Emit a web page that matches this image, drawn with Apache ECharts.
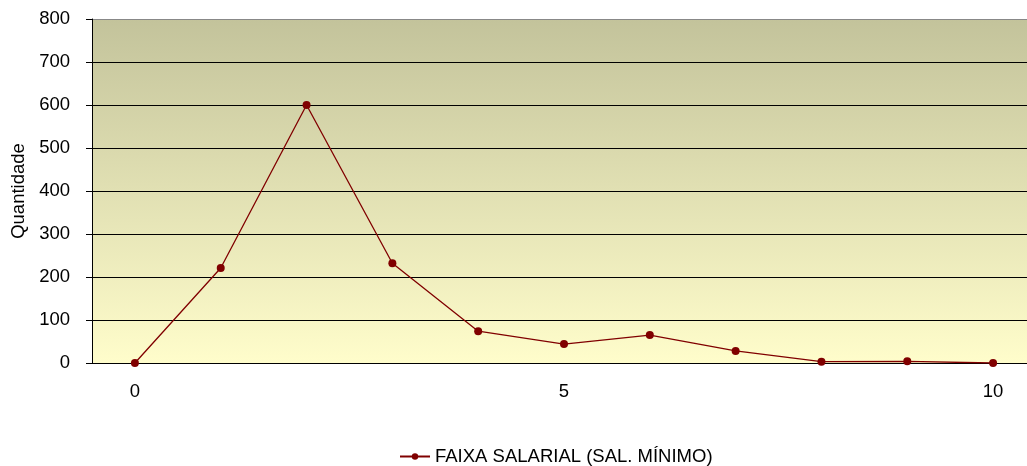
<!DOCTYPE html>
<html>
<head>
<meta charset="utf-8">
<script src="https://cdn.jsdelivr.net/npm/echarts@6/dist/echarts.min.js"></script>
<style>
  html, body { margin: 0; padding: 0; background: #fff; }
  #chart { width: 1027px; height: 466px; }
</style>
</head>
<body>
<div id="chart"></div>
<script>
// faixas salariais (em salários mínimos)
const categories = ['0', '1', '2', '3', '4', '5', '6', '7', '8', '9', '10']
const quantidade = [0, 221, 600, 232, 74, 44, 65, 28, 3, 4, 0]
const seriesName = 'FAIXA SALARIAL (SAL. MÍNIMO)'
const yTicks = [0, 800, 100] // min, max, intervalo

const chart = echarts.init(document.getElementById('chart'))

const font = 'Liberation Sans, Arial, sans-serif'
const fontSize = 18.5

// linhas de grade: pretas, a de cima cinza
const gridColors = []
for (let v = yTicks[0]; v <= yTicks[1]; v += yTicks[2]) {
  gridColors.push(v === yTicks[1] ? '#888888' : '#000000')
}

const option = {
  animation: false,
  textStyle: { fontFamily: font },
  grid: {
    left: 92,
    width: 944, // a área do gráfico passa um pouco da borda direita
    top: 19,
    bottom: 103,
    outerBoundsMode: 'none',
    show: true,
    borderWidth: 0,
    backgroundColor: new echarts.graphic.LinearGradient(0, 0, 0, 1, [
      { offset: 0, color: '#c3c39b' },
      { offset: 1, color: '#fffdcb' },
    ]),
  },
  legend: {
    data: [seriesName],
    left: 394,
    top: 442,
    itemWidth: 30,
    itemHeight: 8,
    itemGap: 5,
    textStyle: { fontFamily: font, fontSize: fontSize, color: '#000' },
  },
  xAxis: {
    type: 'category',
    data: categories,
    boundaryGap: true,
    axisLine: { lineStyle: { color: '#000', width: 1 } },
    axisTick: { interval: 4, length: 6, lineStyle: { color: '#000' } },
    axisLabel: { interval: 4, margin: 19, fontSize: fontSize, color: '#000', fontFamily: font },
    splitLine: { show: false },
  },
  yAxis: {
    type: 'value',
    min: yTicks[0],
    max: yTicks[1],
    interval: yTicks[2],
    name: 'Quantidade',
    nameLocation: 'middle',
    nameGap: 64,
    nameTextStyle: { fontSize: fontSize, color: '#000', fontFamily: font },
    axisLine: { show: true, lineStyle: { color: '#000', width: 1 } },
    axisTick: { show: true, length: 6, lineStyle: { color: '#000' } },
    axisLabel: { margin: 22, fontSize: fontSize, color: '#000', fontFamily: font },
    splitLine: { show: true, lineStyle: { color: gridColors, width: 1 } },
  },
  series: [
    {
      name: seriesName,
      type: 'line',
      data: quantidade,
      symbol: 'circle',
      symbolSize: 8,
      itemStyle: { color: '#800000' },
      lineStyle: { color: '#800000', width: 1.3 },
    },
  ],
}

chart.setOption(option)
</script>
</body>
</html>
